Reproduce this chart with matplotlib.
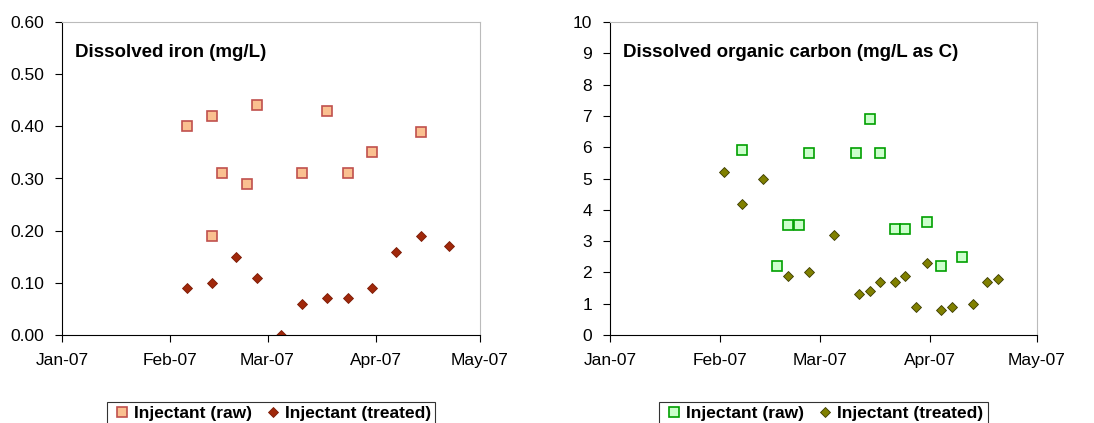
import matplotlib
matplotlib.use("Agg")
import matplotlib.pyplot as plt
import matplotlib.dates as mdates
import pandas as pd

plt.rcParams['font.family'] = ['Liberation Sans', 'DejaVu Sans']

# -----------------------------
# Data
# -----------------------------
fe_raw_dates = ["2007-02-06", "2007-02-13", "2007-02-13", "2007-02-16", "2007-02-23", "2007-02-26",
                "2007-03-11", "2007-03-18", "2007-03-24", "2007-03-31", "2007-04-14"]
fe_raw_vals = [0.40, 0.42, 0.19, 0.31, 0.29, 0.44, 0.31, 0.43, 0.31, 0.35, 0.39]
fe_trt_dates = ["2007-02-06", "2007-02-13", "2007-02-20", "2007-02-26", "2007-03-05", "2007-03-11",
                "2007-03-18", "2007-03-24", "2007-03-31", "2007-04-07", "2007-04-14", "2007-04-22"]
fe_trt_vals = [0.09, 0.10, 0.15, 0.11, 0.00, 0.06, 0.07, 0.07, 0.09, 0.16, 0.19, 0.17]

doc_raw_dates = ["2007-02-07", "2007-02-17", "2007-02-20", "2007-02-23", "2007-02-26", "2007-03-11",
                 "2007-03-15", "2007-03-18", "2007-03-22", "2007-03-25", "2007-03-31", "2007-04-04",
                 "2007-04-10"]
doc_raw_vals = [5.9, 2.2, 3.5, 3.5, 5.8, 5.8, 6.9, 5.8, 3.4, 3.4, 3.6, 2.2, 2.5]
doc_trt_dates = ["2007-02-02", "2007-02-07", "2007-02-13", "2007-02-20", "2007-02-26", "2007-03-05",
                 "2007-03-12", "2007-03-15", "2007-03-18", "2007-03-22", "2007-03-25", "2007-03-28",
                 "2007-03-31", "2007-04-04", "2007-04-07", "2007-04-13", "2007-04-17", "2007-04-20"]
doc_trt_vals = [5.2, 4.2, 5.0, 1.9, 2.0, 3.2, 1.3, 1.4, 1.7, 1.7, 1.9, 0.9, 2.3, 0.8, 0.9, 1.0, 1.7, 1.8]

month_ticks = ["2007-01-01", "2007-02-01", "2007-03-01", "2007-04-01", "2007-05-01"]


def panel(ax, title, raw_d, raw_v, trt_d, trt_v, raw_face, raw_edge, trt_col, trt_edge, ylim, yticks, fmt):
    ax.plot(pd.to_datetime(raw_d), raw_v, 's', ms=7, mfc=raw_face, mec=raw_edge, mew=1.2,
            ls='none', label='Injectant (raw)')
    ax.plot(pd.to_datetime(trt_d), trt_v, 'D', ms=5.5, mfc=trt_col, mec=trt_edge,
            mew=0.6, ls='none', label='Injectant (treated)')
    ax.set_xlim(pd.Timestamp(month_ticks[0]), pd.Timestamp(month_ticks[-1]))
    ax.set_xticks(pd.to_datetime(month_ticks))
    ax.xaxis.set_major_formatter(mdates.DateFormatter('%b-%y'))
    ax.set_ylim(*ylim)
    ax.set_yticks(yticks)
    ax.set_yticklabels([fmt.format(v) for v in yticks])
    ax.tick_params(labelsize=12.5, direction='out', length=5, pad=8)
    for s in ['top', 'right']:
        ax.spines[s].set_color('#bbbbbb')
    for s in ['left', 'bottom']:
        ax.spines[s].set_color('black')
    ax.text(0.03, 0.93, title, transform=ax.transAxes, fontsize=13.5, fontweight='bold', va='top')
    leg = ax.legend(loc='upper center', bbox_to_anchor=(0.5, -0.185), ncol=2, frameon=True, fancybox=False,
                    edgecolor='black', prop={'weight': 'bold', 'size': 12.5}, handletextpad=0.1,
                    columnspacing=0.6, borderpad=0.25, handlelength=1.2)
    leg.get_frame().set_linewidth(0.8)


fig = plt.figure(figsize=(10.94, 4.23), dpi=100)
ax1 = fig.add_axes([62 / 1094, 1 - 335 / 423, 418 / 1094, 313 / 423])
ax2 = fig.add_axes([610 / 1094, 1 - 335 / 423, 427 / 1094, 313 / 423])

panel(ax1, 'Dissolved iron (mg/L)', fe_raw_dates, fe_raw_vals, fe_trt_dates, fe_trt_vals,
      '#FAC090', '#C0504D', '#A0280A', '#7a1a05', (0, 0.6), [0, 0.1, 0.2, 0.3, 0.4, 0.5, 0.6], '{:.2f}')
panel(ax2, 'Dissolved organic carbon (mg/L as C)', doc_raw_dates, doc_raw_vals, doc_trt_dates, doc_trt_vals,
      '#CCFFCC', '#00A000', '#808000', '#3a3a00', (0, 10), list(range(11)), '{:d}')

fig.savefig('out.png', dpi=100)
